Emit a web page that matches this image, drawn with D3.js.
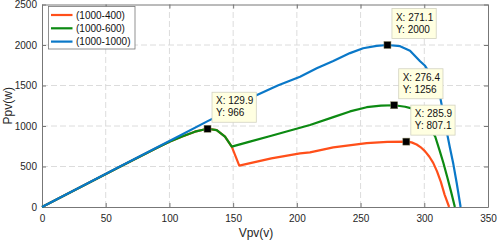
<!DOCTYPE html>
<html>
<head>
<meta charset="utf-8">
<script src="https://cdn.jsdelivr.net/npm/d3@7"></script>
<style>
  body { margin: 0; background: #fff; }
  #chart { width: 498px; height: 242px; }
  text { font-family: "Liberation Sans", Arial, sans-serif; }
</style>
</head>
<body>
<div id="chart"></div>
<script>
// series: voltage (V) and power (W)
const vOrange = [0, 60, 90, 100, 110, 120, 129.9, 137.1, 143.6, 148.9, 154.8, 161.7, 180, 202.5, 210.3, 228.6, 254.8, 271, 285.9, 290, 294, 297, 300.5, 304, 307, 310, 313, 316, 319.5];
const pOrange = [0, 488, 728, 805, 870, 930, 966, 950, 868, 745, 510, 535, 600, 663, 675, 737, 788, 803, 807.1, 798, 772, 740, 690, 620, 545, 440, 310, 150, 0];

const vGreen = [0, 60, 90, 100, 110, 120, 129.9, 137.1, 143.6, 148.9, 161.7, 180, 202.5, 210.3, 228.6, 241.7, 254.8, 266, 276.4, 285, 290, 295, 300, 304, 308.5, 312, 315, 318, 321, 324];
const pGreen = [0, 488, 728, 805, 870, 930, 966, 950, 868, 745, 801, 880, 978, 1012, 1110, 1180, 1232, 1252, 1256, 1238, 1218, 1150, 1060, 975, 873, 700, 543, 370, 190, 0];

const vBlue = [0, 60, 108, 130, 150, 167, 185, 202.5, 215.6, 228.6, 241.7, 252, 262.6, 271.1, 281, 288.8, 296.7, 300.6, 304, 307.5, 310, 312.4, 315, 317.6, 320, 322.8, 325.5, 328.5];
const pBlue = [0, 490, 880, 1060, 1215, 1370, 1500, 1609, 1712, 1802, 1900, 1960, 1990, 2000, 1985, 1930, 1800, 1743, 1660, 1560, 1470, 1363, 1150, 930, 740, 530, 290, 0];

const seriesNames = ["(1000-400)", "(1000-600)", "(1000-1000)"];
const seriesColors = ["#ff4f1a", "#0c8a12", "#0a78c8"];

const xTicks = [0, 50, 100, 150, 200, 250, 300, 350];
const yTicks = [0, 500, 1000, 1500, 2000, 2500];

// data tips
const tipX = [129.9, 271.1, 276.4, 285.9];
const tipY = [966, 2000, 1256, 807.1];

const width = 498;
const height = 242;
const margin = {top: 4.5, left: 42, right: 10, bottom: 35};

const svg = d3.select("#chart")
    .append("svg")
    .attr("width", width)
    .attr("height", height);

const xScale = d3.scaleLinear()
    .domain([0, 350])
    .range([margin.left, width - margin.right]);

const yScale = d3.scaleLinear()
    .domain([0, 2500])
    .range([height - margin.bottom, margin.top]);

// dashed grid
svg.append("g").selectAll("line")
    .data(xTicks.slice(1, -1))
    .enter().append("line")
        .attr("x1", d => xScale(d)).attr("x2", d => xScale(d))
        .attr("y1", yScale(0)).attr("y2", yScale(2500))
        .attr("stroke", "#dcdcdc").attr("stroke-dasharray", "6,3");

svg.append("g").selectAll("line")
    .data(yTicks.slice(1, -1))
    .enter().append("line")
        .attr("x1", xScale(0)).attr("x2", xScale(350))
        .attr("y1", d => yScale(d)).attr("y2", d => yScale(d))
        .attr("stroke", "#dcdcdc").attr("stroke-dasharray", "6,3");

// axes, ticks pointing inward on all four sides
const fmt = d3.format("d");

const xAxis = svg.append("g")
    .attr("transform", `translate(0,${yScale(0)})`)
    .call(d3.axisBottom(xScale).tickValues(xTicks).tickFormat(fmt).tickSizeInner(-4).tickSizeOuter(0).tickPadding(8));

const xAxisTop = svg.append("g")
    .attr("transform", `translate(0,${yScale(2500)})`)
    .call(d3.axisTop(xScale).tickValues(xTicks).tickSizeInner(-4).tickSizeOuter(0).tickFormat(""));

const yAxis = svg.append("g")
    .attr("transform", `translate(${xScale(0)},0)`)
    .call(d3.axisLeft(yScale).tickValues(yTicks).tickFormat(fmt).tickSizeInner(-4).tickSizeOuter(0).tickPadding(5));

const yAxisRight = svg.append("g")
    .attr("transform", `translate(${xScale(350)},0)`)
    .call(d3.axisRight(yScale).tickValues(yTicks).tickSizeInner(-4).tickSizeOuter(0).tickFormat(""));

svg.selectAll(".domain, .tick line").attr("stroke", "#777");
svg.selectAll(".tick text")
    .attr("fill", "#262626")
    .style("font-size", "10px")
    .style("font-family", "'Liberation Sans', Arial, sans-serif");

// curves
const line = d3.line()
    .x(d => xScale(d[0]))
    .y(d => yScale(d[1]));

const allSeries = [
    d3.zip(vOrange, pOrange),
    d3.zip(vGreen, pGreen),
    d3.zip(vBlue, pBlue)
];

svg.append("g").selectAll("path")
    .data(allSeries)
    .enter().append("path")
        .attr("d", line)
        .attr("fill", "none")
        .attr("stroke", (d, i) => seriesColors[i])
        .attr("stroke-width", 2.2)
        .attr("stroke-linejoin", "round");

// data tip markers and boxes
const tips = svg.append("g").selectAll("g")
    .data(d3.zip(tipX, tipY))
    .enter().append("g");

tips.append("rect")
    .attr("x", d => xScale(d[0]) - 3.5)
    .attr("y", d => yScale(d[1]) - 3.5)
    .attr("width", 7).attr("height", 7)
    .attr("fill", "#000")
    .attr("stroke", "#8a8660").attr("stroke-width", 0.5);

tips.each(function(d) {
    const g = d3.select(this);
    const bx = xScale(d[0]) + 4.5;
    const by = yScale(d[1]) - 36.5;
    const box = g.append("rect")
        .attr("x", bx).attr("y", by)
        .attr("height", 30)
        .attr("fill", "#ffffe1")
        .attr("stroke", "#d2d2c0").attr("stroke-width", 0.8);
    const t1 = g.append("text")
        .attr("x", bx + 4).attr("y", by + 12)
        .attr("font-size", "10px").attr("fill", "#111")
        .text("X: " + d[0]);
    const t2 = g.append("text")
        .attr("x", bx + 4).attr("y", by + 24)
        .attr("font-size", "10px").attr("fill", "#111")
        .text("Y: " + d[1]);
    const w = Math.max(t1.node().getComputedTextLength(), t2.node().getComputedTextLength());
    box.attr("width", w + 7);
});

// legend
const legend = svg.append("g");
legend.append("rect")
    .attr("x", 48.5).attr("y", 6.5)
    .attr("width", 86.5).attr("height", 42.5)
    .attr("fill", "#fff")
    .attr("stroke", "#777").attr("stroke-width", 0.8);

const legendRows = legend.selectAll("g")
    .data(seriesNames)
    .enter().append("g")
        .attr("transform", (d, i) => `translate(0,${15 + i * 13.3})`);

legendRows.append("line")
    .attr("x1", 51).attr("x2", 72.5)
    .attr("stroke", (d, i) => seriesColors[i])
    .attr("stroke-width", 2.2);

legendRows.append("text")
    .attr("x", 76).attr("y", 3.6)
    .attr("font-size", "10px").attr("fill", "#111")
    .text(d => d);

// axis labels
const xAxisLabel = svg.append("text")
    .attr("x", 256)
    .attr("y", 237)
    .attr("text-anchor", "middle")
    .attr("font-size", "12px").attr("fill", "#262626")
    .text("Vpv(v)");

const yAxisLabel = svg.append("text")
    .attr("transform", "rotate(-90)")
    .attr("x", -(yScale(0) + yScale(2500)) / 2)
    .attr("y", 12)
    .attr("text-anchor", "middle")
    .attr("font-size", "12px").attr("fill", "#262626")
    .text("Ppv(w)");
</script>
</body>
</html>
